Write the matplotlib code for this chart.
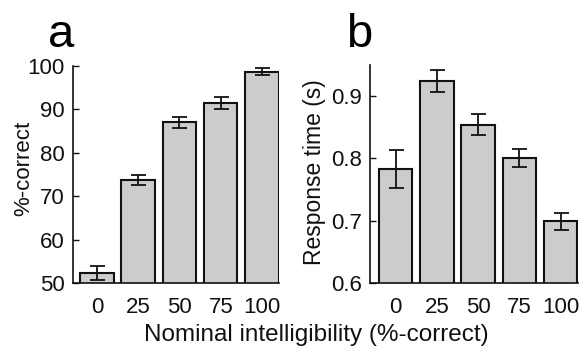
import matplotlib
matplotlib.use("Agg")
import matplotlib.pyplot as plt
import numpy as np

plt.rcParams["font.family"] = ["Liberation Sans", "DejaVu Sans"]

# data
levels = ["0", "25", "50", "75", "100"]
pct_correct = [52.3, 73.8, 87.0, 91.5, 98.7]
pct_err = [1.7, 1.2, 1.3, 1.3, 0.8]
resp_time = [0.783, 0.924, 0.854, 0.801, 0.699]
resp_err = [0.031, 0.018, 0.017, 0.014, 0.014]

W, H = 579, 353
fig = plt.figure(figsize=(W / 100, H / 100), dpi=100)

ax_a = fig.add_axes([72.5 / W, 1 - 283 / H, (279 - 72.5) / W, (283 - 66) / H])
ax_b = fig.add_axes([370 / W, 1 - 283 / H, (578 - 370) / W, (283 - 65) / H])

x = np.arange(1, len(levels) + 1)


def draw_panel(ax, vals, errs, ylim, yticks, yticklabels, ylabel, xlim, ylabel_size):
    ax.bar(x, vals, width=0.81, color="#cccccc", edgecolor="#111111",
           linewidth=1.5, zorder=2)
    ax.errorbar(x, vals, yerr=errs, fmt="none", ecolor="#111111",
                elinewidth=1.3, capsize=5.4, capthick=1.3, zorder=3)
    ax.set_xlim(*xlim)
    ax.set_ylim(*ylim)
    ax.set_yticks(yticks)
    ax.set_yticklabels(yticklabels)
    ax.set_xticks(x)
    ax.set_xticklabels(levels)
    ax.spines["top"].set_visible(False)
    ax.spines["right"].set_visible(False)
    for s in ("left", "bottom"):
        ax.spines[s].set_linewidth(1.2)
        ax.spines[s].set_color("#111111")
    ax.tick_params(axis="y", direction="in", length=4, width=1.0,
                   labelsize=16, pad=5.5, colors="#111111")
    ax.tick_params(axis="x", direction="in", length=0, labelsize=16,
                   pad=10, colors="#111111")
    ax.set_ylabel(ylabel, fontsize=ylabel_size, color="#111111")


draw_panel(ax_a, pct_correct, pct_err, (50, 100), [50, 60, 70, 80, 90, 100],
           ["50", "60", "70", "80", "90", "100"], "%-correct", (0.41, 5.41), 16)
draw_panel(ax_b, resp_time, resp_err, (0.6, 0.95), [0.6, 0.7, 0.8, 0.9],
           ["0.6", "0.7", "0.8", "0.9"], "Response time (s)", (0.38, 5.42), 16.5)

# ylabel centres in figure coords
ax_a.yaxis.label.set_verticalalignment("center")
ax_b.yaxis.label.set_verticalalignment("center")
ax_a.yaxis.set_label_coords(24 / W, 1 - 168 / H, transform=fig.transFigure)
ax_b.yaxis.set_label_coords(315 / W, 1 - 172 / H, transform=fig.transFigure)

fig.text(61 / W, 1 - 46.7 / H, "a", fontsize=34, ha="center", va="baseline")
fig.text(359 / W, 1 - 47.3 / H, "b", fontsize=34, ha="center", va="baseline")
fig.text(316 / W, 1 - 335 / H, "Nominal intelligibility (%-correct)",
         fontsize=17.5, ha="center", va="center", color="#111111")

fig.savefig("out.png", dpi=100)
